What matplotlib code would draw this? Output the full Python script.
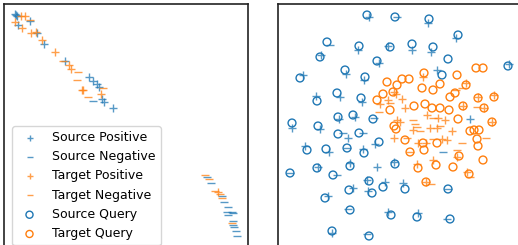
import matplotlib
matplotlib.use("Agg")
import matplotlib.pyplot as plt
import numpy as np

# ---------------- data (arbitrary embedding units) -------------
# Left panel
L_src_pos_x = [16, 17, 30, 18, 37, 44, 65, 89, 93, 97, 99, 102, 104, 113, 15]
L_src_pos_y = [15, 16, 21, 25, 33, 44, 61, 77, 81, 84, 87, 99, 102, 108, 14]
L_src_neg_x = [93, 207, 211, 222, 224, 228, 227, 232, 228, 233, 233, 233, 234, 236, 237]
L_src_neg_y = [101, 177, 183, 196, 202, 207, 212, 212, 215, 213, 221, 225, 227, 231, 236]
L_tgt_pos_x = [21, 25, 15, 22, 31, 36, 42, 55, 69, 71, 82, 83, 101, 218]
L_tgt_pos_y = [16, 16, 22, 28, 33, 32, 40, 52, 65, 69, 90, 90, 94, 192]
L_tgt_neg_x = [30, 63, 78, 77, 103, 88, 205, 209, 215, 220, 222, 232]
L_tgt_neg_y = [20, 61, 72, 80, 88, 97, 175, 179, 191, 194, 198, 223]

# Right panel
R_src_q_x = [367, 395, 429, 458, 327, 359, 390, 412, 433, 320, 448, 377, 508, 345, 300, 365,
             442, 317, 337, 361, 292, 318, 338, 353, 373, 338, 359, 379, 307, 326, 347, 364,
             290, 317, 333, 350, 395, 369, 349, 383, 405, 372, 325, 448, 350, 391, 417, 450,
             332, 369]
R_src_q_y = [15, 17, 19, 35, 42, 46, 47, 44, 47, 57, 59, 61, 66, 70, 78, 77,
             75, 101, 93, 98, 123, 126, 117, 115, 119, 134, 133, 142, 150, 149, 148, 153,
             173, 168, 175, 166, 164, 181, 190, 187, 189, 193, 198, 189, 210, 215, 217, 219,
             231, 236]
R_src_pos_x = [369, 428, 456, 358, 388, 412, 431, 321, 379, 509, 346, 303, 364, 437, 316, 340,
               362, 339, 355, 292, 320, 348, 375, 305, 329, 363, 318, 350, 377, 394, 367, 353,
               385, 403, 368, 328, 388, 418, 332, 470]
R_src_pos_y = [17, 23, 38, 50, 46, 50, 52, 55, 63, 64, 74, 75, 80, 70, 96, 97,
               102, 119, 117, 128, 129, 138, 144, 146, 152, 149, 167, 163, 167, 162, 180, 188,
               182, 183, 191, 196, 212, 213, 233, 119]
R_src_neg_x = [397, 330, 374, 343, 363, 290, 337, 347, 448, 348, 447, 367, 443]
R_src_neg_y = [17, 45, 118, 133, 133, 173, 175, 148, 189, 209, 219, 234, 152]

R_tgt_q_x = [424, 457, 476, 483, 387, 397, 402, 409, 440, 466, 422, 433, 393, 383, 455, 450,
             377, 478, 494, 390, 414, 425, 432, 440, 449, 463, 484, 394, 458, 492, 396, 470,
             474, 479, 405, 423, 437, 477, 478, 424, 410, 459, 483, 436, 418, 453, 469, 426]
R_tgt_q_y = [73, 75, 68, 68, 82, 85, 79, 79, 84, 85, 88, 90, 92, 94, 93, 97,
             100, 98, 97, 110, 106, 104, 108, 108, 110, 106, 108, 126, 119, 122, 129, 131,
             130, 130, 140, 143, 143, 139, 146, 150, 152, 156, 160, 165, 168, 167, 174, 182]
R_tgt_pos_x = [423, 466, 394, 396, 388, 402, 478, 494, 405, 463, 484, 397, 427, 400, 438, 445,
               492, 413, 430, 437, 452, 394, 418, 426, 442, 447, 457, 433, 417, 467, 426, 380]
R_tgt_pos_y = [77, 83, 92, 94, 100, 99, 97, 95, 108, 106, 108, 120, 115, 122, 118, 120,
               122, 130, 128, 128, 131, 138, 143, 143, 139, 140, 157, 160, 164, 172, 182, 104]
R_tgt_neg_x = [462, 390, 477, 413, 417, 433, 407, 433, 486, 462, 410, 457, 470, 431, 415, 379,
               440, 420, 456]
R_tgt_neg_y = [88, 103, 107, 120, 127, 118, 138, 139, 138, 143, 152, 150, 177, 184, 124, 112,
               126, 131, 90]

labels = ["Source Positive", "Source Negative", "Target Positive",
          "Target Negative", "Source Query", "Target Query"]

BLUE = "#1f77b4"
ORANGE = "#ff7f0e"

W, H = 518, 245
fig = plt.figure(figsize=(W / 100, H / 100), dpi=100)

def make_axes(x0, x1, top):
    # axes extend below (and possibly right of) the visible figure area
    bottom_px = H + 40
    ax = fig.add_axes([x0 / W, (H - bottom_px) / H, (x1 - x0) / W, (bottom_px - top) / H])
    ax.set_xlim(x0, x1)
    ax.set_ylim(bottom_px, top)
    ax.set_xticks([])
    ax.set_yticks([])
    for s in ax.spines.values():
        s.set_linewidth(1.2)
        s.set_color("#222222")
    return ax

axL = make_axes(4, 247.5, 4)
axR = make_axes(278, 560, 4)

ms_kw = dict(s=30, linewidths=1.0, alpha=0.75)
circ_kw = dict(s=32, linewidths=1.0, facecolors="none")

def draw(ax, sp, sn, tp, tn, sq=None, tq=None):
    h = []
    h.append(ax.scatter(sp[0], sp[1], marker="+", color=BLUE, **ms_kw))
    h.append(ax.scatter(sn[0], sn[1], marker="_", color=BLUE, **ms_kw))
    h.append(ax.scatter(tp[0], tp[1], marker="+", color=ORANGE, **ms_kw))
    h.append(ax.scatter(tn[0], tn[1], marker="_", color=ORANGE, **ms_kw))
    if sq is not None:
        h.append(ax.scatter(sq[0], sq[1], marker="o", edgecolors=BLUE, **circ_kw))
        h.append(ax.scatter(tq[0], tq[1], marker="o", edgecolors=ORANGE, **circ_kw))
    return h

hl = draw(axL, (L_src_pos_x, L_src_pos_y), (L_src_neg_x, L_src_neg_y),
          (L_tgt_pos_x, L_tgt_pos_y), (L_tgt_neg_x, L_tgt_neg_y))
hr = draw(axR, (R_src_pos_x, R_src_pos_y), (R_src_neg_x, R_src_neg_y),
          (R_tgt_pos_x, R_tgt_pos_y), (R_tgt_neg_x, R_tgt_neg_y),
          (R_src_q_x, R_src_q_y), (R_tgt_q_x, R_tgt_q_y))

handles = hl[:4] + hr[4:]
axL.legend(handles, labels, loc="upper left",
           bbox_to_anchor=(12 / W, (H - 126) / H), bbox_transform=fig.transFigure,
           borderaxespad=0, fontsize=9, framealpha=0.8, markerscale=0.9)

fig.savefig("out.png", dpi=100)
